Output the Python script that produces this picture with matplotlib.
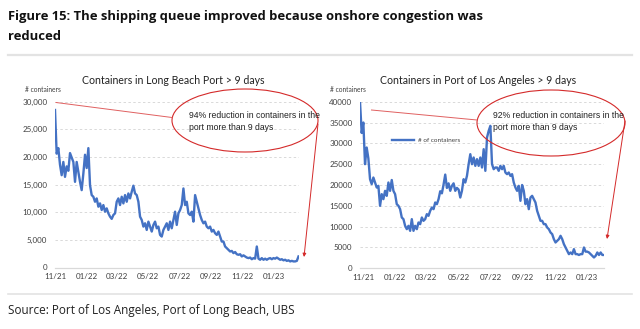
import matplotlib
matplotlib.use("Agg")
import matplotlib.pyplot as plt
import matplotlib.dates as mdates
from matplotlib.patches import Ellipse, FancyArrowPatch
import pandas as pd

# Containers dwelling more than 9 days, Port of Long Beach
lb_start, lb_end = "2021-11-01", "2023-02-18"
lb_containers = [
    28500, 20600, 21600, 18600, 16700, 19100, 16400, 18300, 17500, 20700,
    19900, 19100, 15500, 19100, 17300, 15500, 14000, 17000, 20400, 18000,
    21600, 14900, 13100, 12800, 11900, 12500, 11000, 11600, 10400, 11300,
    10100, 10700, 9800, 9200, 8800, 9500, 9800, 11900, 12500, 11300,
    12800, 11600, 13100, 11900, 13400, 12500, 13700, 14800,
    13400, 13100, 11900, 9200, 8600, 7400, 8000, 6800, 8300, 7400,
    6500, 7700, 8300, 7100, 7400, 5900, 5600, 6800, 7400, 8000,
    6800, 8300, 7100, 8600, 10100, 7700, 9800, 10400, 11300, 14300,
    11300, 11900, 9800, 9500, 10100, 8300, 13100, 11900, 10700, 9500,
    8600, 8000, 8300, 7400, 7100, 7400, 6500, 6800, 6200, 5900, 6500,
    5600, 4700, 4700, 3800, 3500, 3200, 2900, 3000, 2600, 2800,
    2400, 2300, 2400, 2000, 2200, 2000, 1800, 1700, 1800, 1500,
    1700, 1600, 3800, 1600, 1400, 1700, 1400, 1600, 1400, 1600,
    1700, 1500, 1700, 1600, 1800, 1600, 1400, 1500, 1300, 1400,
    1200, 1300, 1100, 1200, 1100, 1100, 1200, 2000,
]

# Containers dwelling more than 9 days, Port of Los Angeles
la_start, la_end = "2021-10-26", "2023-02-02"
la_containers = [
    40000, 32500, 35000, 25000, 29000, 26400, 21400, 20200, 21800, 20600,
    19400, 19800, 15000, 17800, 16600, 18600, 17400, 20600, 18600, 21200,
    18600, 17800, 15400, 15000, 14200, 12200, 11800, 10200, 9400, 10200,
    9000, 11800, 9000, 10200, 9400, 11000, 10600, 12200, 11400, 11800,
    13000, 12600, 13800, 14600, 14200, 15800, 15400, 16600,
    18500, 18000, 20100, 22500, 19300, 20400, 18600, 19800, 20400, 18600,
    19300, 18900, 17000, 18600, 21400, 20600, 22200, 25000, 27400, 25000,
    26600, 24600, 26200, 24600, 26600, 24200, 28600, 23400, 31400, 33000,
    34200, 25000, 23800, 24200, 24200, 23400, 24600, 23800, 24600, 23000,
    22600, 23000, 22200, 22600, 20600, 19400, 18600, 19800, 16200, 20000, 18600,
    15400, 16600, 14200, 17000, 17400, 16600, 15800, 13800, 12600, 11400,
    11400, 10600, 10600, 9800, 9400, 8600, 8200, 7000, 6200, 6600,
    7000, 7800, 7000, 5800, 5000, 4200, 3400, 3800, 3400, 4600,
    3400, 3400, 3200, 3400, 3400, 5000, 4000, 4000, 3800, 3400,
    3000, 2600, 3000, 3800, 3200, 3800, 3200, 3200,
]

month_ticks = pd.date_range("2021-11-01", "2023-01-01", freq="2MS")
lb_yticks = [0, 5000, 10000, 15000, 20000, 25000, 30000]
la_yticks = [0, 5000, 10000, 15000, 20000, 25000, 30000, 35000, 40000]

lb_dates = pd.date_range(lb_start, lb_end, periods=len(lb_containers))
la_dates = pd.date_range(la_start, la_end, periods=len(la_containers))

W, H = 640, 329
BLUE = "#4472C4"
RED = "#D42A2A"
GRID = "#D9D9D9"
TXT = "#404040"
CHART_FONT = "Lato"

fig = plt.figure(figsize=(W / 100, H / 100), dpi=100)


def px_axes(x0, y0, x1, y1):
    """Axes placed by pixel box (top-left origin)."""
    return fig.add_axes([x0 / W, 1 - y1 / H, (x1 - x0) / W, (y1 - y0) / H])


def style_axes(ax, yticks, fmt):
    ax.set_ylim(yticks[0], yticks[-1])
    ax.set_yticks(yticks)
    ax.set_yticklabels([fmt(v) for v in yticks], fontsize=5.8, color=TXT,
                       family=CHART_FONT)
    ax.set_xticks(month_ticks)
    ax.xaxis.set_major_formatter(mdates.DateFormatter("%m/%y"))
    for lab in ax.get_xticklabels():
        lab.set_fontsize(5.8)
        lab.set_color(TXT)
        lab.set_family(CHART_FONT)
    ax.tick_params(axis="y", length=0, pad=5.5)
    ax.tick_params(axis="x", length=0, pad=4)
    for s in ax.spines.values():
        s.set_visible(False)
    for v in yticks[1:]:
        ax.axhline(v, color=GRID, lw=0.7, ls=(0, (2.5, 2.5)), zorder=0)
    ax.axhline(0, color=GRID, lw=0.9, zorder=0, clip_on=False)
    ax.set_facecolor("none")


# Long Beach panel
ax1 = px_axes(55, 101.7, 298.5, 267.5)
ax1.plot(lb_dates, lb_containers, color=BLUE, lw=1.7, solid_joinstyle="round")
ax1.set_xlim(lb_dates[0], lb_dates[-1])
style_axes(ax1, lb_yticks, lambda v: f"{v:,}")

# Los Angeles panel
ax2 = px_axes(360, 101.7, 604, 268.3)
ax2.plot(la_dates, la_containers, color=BLUE, lw=1.7, solid_joinstyle="round",
         label="# of containers")
ax2.set_xlim(la_dates[0], la_dates[-1])
style_axes(ax2, la_yticks, lambda v: f"{v}")
leg = ax2.legend(loc="upper left", bbox_to_anchor=(0.12, 0.80), frameon=False,
                 handlelength=3.4, handletextpad=0.7, borderaxespad=0,
                 prop={"family": CHART_FONT, "size": 4.6})
for t in leg.get_texts():
    t.set_color(TXT)

# Overlay in pixel coordinates for page text and call-outs
ov = fig.add_axes([0, 0, 1, 1], zorder=10)
ov.set_xlim(0, W)
ov.set_ylim(H, 0)
ov.axis("off")

ov.text(8, 20, "Figure 15: The shipping queue improved because onshore congestion was",
        fontsize=9.4, weight="bold", family="Open Sans", va="baseline",
        color="#111111")
ov.text(8, 40, "reduced", fontsize=9.4, weight="bold", family="Open Sans",
        va="baseline", color="#111111")
ov.plot([8, 632], [55, 55], color="#E3E3E3", lw=1.6)
ov.plot([8, 632], [293.5, 293.5], color="#E3E3E3", lw=1.2)
ov.text(8, 314, "Source: Port of Los Angeles, Port of Long Beach, UBS",
        fontsize=8.5, family="Open Sans", va="baseline", color="#222222")

ov.text(173, 80, "Containers in Long Beach Port > 9 days", fontsize=7.6,
        family=CHART_FONT, ha="center", va="center", color="#222222")
ov.text(478, 80, "Containers in Port of Los Angeles > 9 days", fontsize=7.6,
        family=CHART_FONT, ha="center", va="center", color="#222222")
ov.text(25, 89, "# containers", fontsize=4.8, family=CHART_FONT, va="center",
        color=TXT)
ov.text(330, 89, "# containers", fontsize=4.8, family=CHART_FONT, va="center",
        color=TXT)

# Call-outs
for (cx, cy, w, h, tx, msg, lx0, ly0, lx1, ly1, ax0, ay0, ax1_, ay1) in [
    (245, 120.5, 146, 63, 189, "94%", 56, 102.5, 172, 117.5, 318, 124, 304, 257),
    (551, 123, 148, 66, 493, "92%", 371.5, 110, 477, 120, 625, 121, 607, 239),
]:
    ov.add_patch(Ellipse((cx, cy), w, h, fill=False, ec=RED, lw=0.8))
    ov.text(tx, 115, f"{msg} reduction in containers in the", fontsize=6.2,
            family="Liberation Sans", va="center", color="#222222")
    ov.text(tx, 127, "port more than 9 days", fontsize=6.2,
            family="Liberation Sans", va="center", color="#222222")
    ov.plot([lx0, lx1], [ly0, ly1], color="#E06060", lw=0.7)
    ov.add_patch(FancyArrowPatch((ax0, ay0), (ax1_, ay1), arrowstyle="-|>",
                                 mutation_scale=5, color=RED, lw=0.7,
                                 shrinkA=0, shrinkB=0))

fig.savefig("out.png", dpi=100)
